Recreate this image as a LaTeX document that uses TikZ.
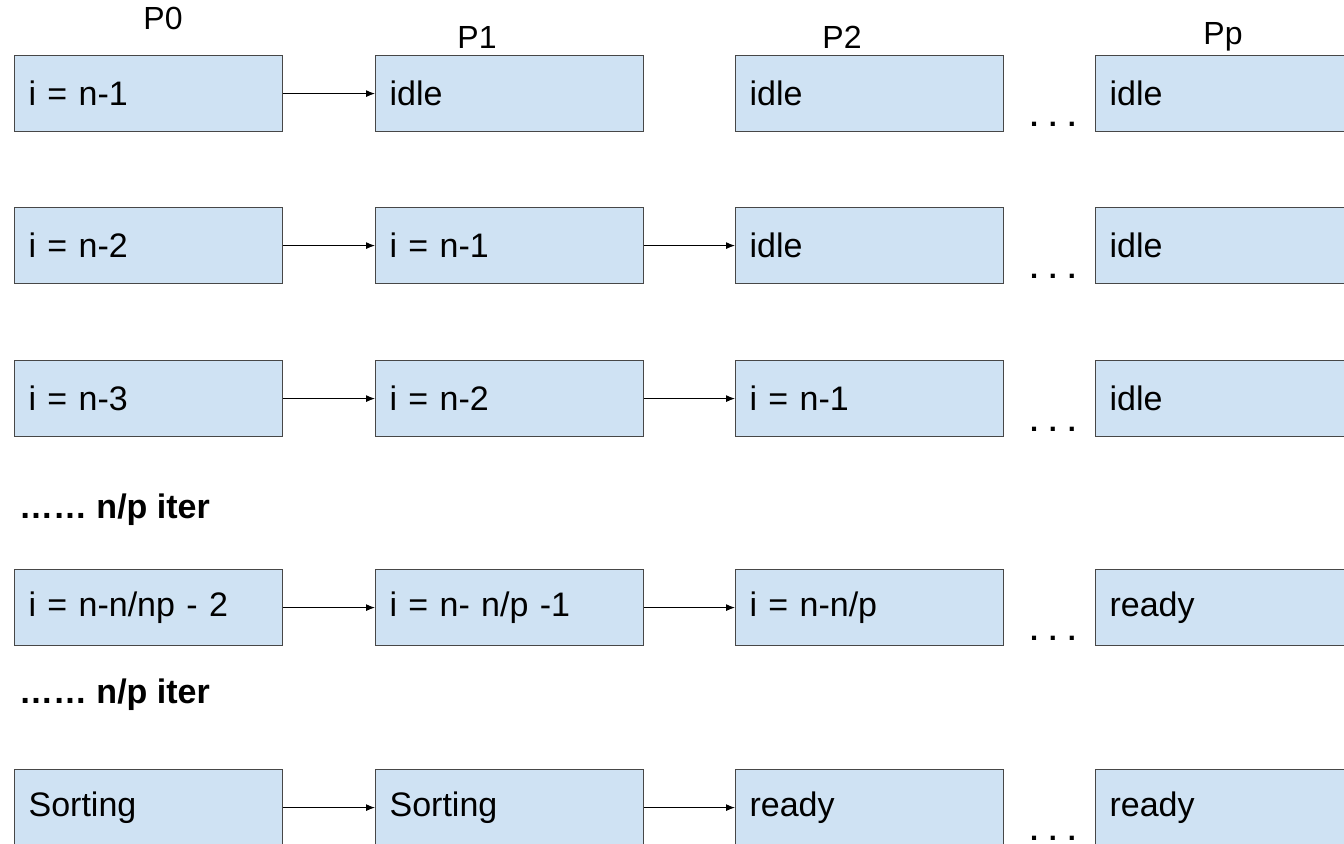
\documentclass[tikz,border=0pt]{standalone}
\usepackage{fontspec}
\setmainfont{Liberation Sans}
\usetikzlibrary{arrows.meta}

\definecolor{boxblue}{HTML}{CFE2F3}
\definecolor{boxline}{HTML}{474747}

\begin{document}
\begin{tikzpicture}[x=0.5pt, y=-0.5pt,
        proc/.style={draw=boxline, fill=boxblue, line width=0.6pt, anchor=north west,
            minimum width=134pt, minimum height=38pt, text width=120pt,
            inner xsep=7pt, inner ysep=0pt, align=left, font=\fontsize{17}{20}\selectfont},
        lbl/.style={font=\fontsize{16}{19}\selectfont},
        gap/.style={inner sep=0pt, font=\bfseries\fontsize{14.5}{16}\selectfont},
        msg/.style={-{Latex[length=4.5pt,width=3.5pt]}, line width=0.5pt}]
        \path[use as bounding box, clip] (0,0) rectangle (1344,844);

        % processor labels
        \node[lbl] (p0) at (163,18) {P0};
        \node[lbl] (p1) at (477,37) {P1};
        \node[lbl] (p2) at (842,37) {P2};
        \node[lbl] (pp) at (1223,37) {Pp};

        % step 1
        \node[proc] (a1) at (14,55) {i = n-1};
        \node[proc] (b1) at (375,55) {idle};
        \node[proc] (c1) at (735,55) {idle};
        \node[proc] (d1) at (1095,55) {idle};
        \node[gap] (e1) at (1053,124) {. . .};
        \draw[msg] (a1) -- (b1);

        % step 2
        \node[proc] (a2) at (14,207) {i = n-2};
        \node[proc] (b2) at (375,207) {i = n-1};
        \node[proc] (c2) at (735,207) {idle};
        \node[proc] (d2) at (1095,207) {idle};
        \node[gap] (e2) at (1053,276) {. . .};
        \draw[msg] (a2) -- (b2);
        \draw[msg] (b2) -- (c2);

        % step 3
        \node[proc] (a3) at (14,360) {i = n-3};
        \node[proc] (b3) at (375,360) {i = n-2};
        \node[proc] (c3) at (735,360) {i = n-1};
        \node[proc] (d3) at (1095,360) {idle};
        \node[gap] (e3) at (1053,429) {. . .};
        \draw[msg] (a3) -- (b3);
        \draw[msg] (b3) -- (c3);

        \node[anchor=west, font=\bfseries\fontsize{17}{20}\selectfont] (it1) at (12,510) {…… n/p iter};

        % step n/p
        \node[proc] (a4) at (14,569) {i = n-n/np - 2};
        \node[proc] (b4) at (375,569) {i = n- n/p -1};
        \node[proc] (c4) at (735,569) {i = n-n/p};
        \node[proc] (d4) at (1095,569) {ready};
        \node[gap] (e4) at (1053,638) {. . .};
        \draw[msg] (a4) -- (b4);
        \draw[msg] (b4) -- (c4);

        \node[anchor=west, font=\bfseries\fontsize{17}{20}\selectfont] (it2) at (12,695) {…… n/p iter};

        % last step
        \node[proc] (a5) at (14,769) {Sorting};
        \node[proc] (b5) at (375,769) {Sorting};
        \node[proc] (c5) at (735,769) {ready};
        \node[proc] (d5) at (1095,769) {ready};
        \node[gap] (e5) at (1053,838) {. . .};
        \draw[msg] (a5) -- (b5);
        \draw[msg] (b5) -- (c5);

    \end{tikzpicture}
\end{document}
